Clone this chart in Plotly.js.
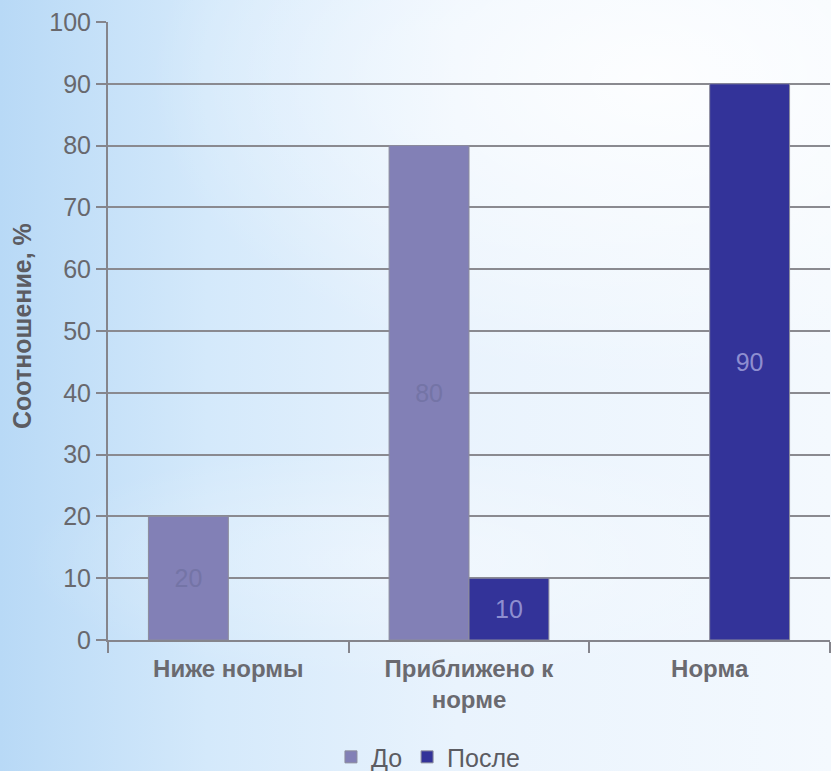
<!DOCTYPE html>
<html>
<head>
<meta charset="utf-8">
<script src="https://cdn.plot.ly/plotly-3.0.1.min.js"></script>
<style>
html, body { margin:0; padding:0; width:831px; height:771px; overflow:hidden; }
body {
  background:
    radial-gradient(ellipse 500px 300px at 650px 80px, rgba(255,255,255,0.85), rgba(255,255,255,0) 100%),
    radial-gradient(ellipse 400px 120px at 420px 560px, rgba(255,255,255,0.35), rgba(255,255,255,0) 100%),
    linear-gradient(to right, #b8d9f6 0%, #d4e9fb 25%, #e9f3fd 55%, #f4f9fe 100%);
}
#chart { width:831px; height:771px; }
</style>
</head>
<body>
<div id="chart"></div>
<script>
const categories = ["Ниже нормы", "Приближено к<br>норме", "Норма"];
const seriesNames = ["До", "После"];
const beforeValues = [20, 80, 0];
const afterValues = [0, 10, 90];
const yTicks = [0, 10, 20, 30, 40, 50, 60, 70, 80, 90, 100];

const labelOf = v => (v ? String(v) : "");
const barOf = v => (v ? v : null);
const FONT = "Liberation Sans, Arial, sans-serif";

const traces = [
  {
    type: "bar", name: seriesNames[0], x: categories, y: beforeValues.map(barOf),
    text: beforeValues.map(labelOf), textposition: "inside", insidetextanchor: "middle",
    textfont: { family: FONT, size: 25, color: "#7474a6" },
    marker: { color: "#8280b6", line: { color: "#8c8c9c", width: 1 } },
    hoverinfo: "none"
  },
  {
    type: "bar", name: seriesNames[1], x: categories, y: afterValues.map(barOf),
    text: afterValues.map(labelOf), textposition: "inside", insidetextanchor: "middle",
    textfont: { family: FONT, size: 25, color: "#8e8ed0" },
    marker: { color: "#333399", line: { color: "#8c8c9c", width: 1 } },
    hoverinfo: "none"
  }
];

const layout = {
  width: 831, height: 771,
  margin: { l: 108, r: 1, t: 22, b: 131, autoexpand: false },
  paper_bgcolor: "rgba(0,0,0,0)",
  plot_bgcolor: "rgba(0,0,0,0)",
  barmode: "group",
  bargap: 0.336,
  bargroupgap: 0,
  font: { family: FONT, color: "#707074" },
  xaxis: {
    type: "category",
    showline: true, linecolor: "#85858c", linewidth: 2,
    ticks: "outside", tickson: "boundaries", ticklen: 11, tickwidth: 2, tickcolor: "#85858c",
    ticklabelstandoff: 6,
    showgrid: false, zeroline: false, automargin: false,
    tickfont: { size: 24, color: "#6a6a70", family: FONT, weight: "bold" }
  },
  yaxis: {
    range: [0, 100], tickvals: yTicks, ticktext: yTicks.map(String),
    showline: true, linecolor: "#85858c", linewidth: 2,
    ticks: "outside", ticklen: 10, tickwidth: 2, tickcolor: "#85858c",
    showgrid: true, gridcolor: "#8a8a90", gridwidth: 2,
    zeroline: false, automargin: false,
    tickfont: { size: 25, color: "#68686d" }
  },
  showlegend: true,
  legend: {
    orientation: "h", xref: "container", yref: "container",
    x: 0.515, xanchor: "center", y: 0.018, yanchor: "middle",
    font: { size: 25, color: "#5c5c62" },
    bgcolor: "rgba(0,0,0,0)", itemwidth: 30, tracegroupgap: 0
  },
  annotations: [{
    text: "Соотношение, %", textangle: -90,
    xref: "paper", yref: "paper", x: (22 - 108) / 722, y: (640 - 326) / 618,
    xanchor: "center", yanchor: "middle", showarrow: false,
    font: { size: 25, color: "#5c5c62", family: FONT, weight: "bold" }
  }]
};

Plotly.newPlot("chart", traces, layout, { staticPlot: true, displayModeBar: false });
</script>
</body>
</html>
